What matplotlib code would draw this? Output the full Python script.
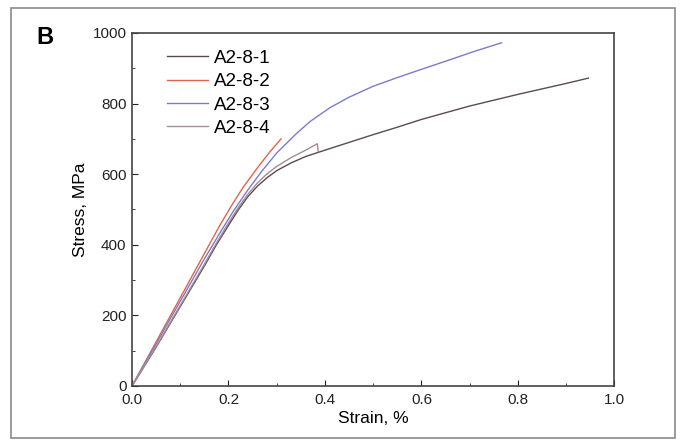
import matplotlib
matplotlib.use('Agg')
from matplotlib import pyplot as plt
from matplotlib.patches import Rectangle
from matplotlib.ticker import MultipleLocator

plt.rcParams['font.family'] = ['Liberation Sans', 'DejaVu Sans']

# stress-strain curves
strain_1 = [0, 0.05, 0.1, 0.15, 0.175, 0.2, 0.22, 0.24, 0.26, 0.28, 0.30, 0.33, 0.36,
            0.4, 0.45, 0.5, 0.55, 0.6, 0.7, 0.8, 0.9, 0.946]
stress_1 = [0, 110, 225, 340, 400, 455, 498, 536, 566, 590, 610, 632, 650,
            668, 690, 712, 733, 755, 793, 826, 857, 872]

strain_2 = [0, 0.05, 0.1, 0.15, 0.18, 0.205, 0.23, 0.26, 0.285, 0.309]
stress_2 = [0, 125, 250, 375, 450, 508, 562, 618, 662, 700]

strain_3 = [0, 0.05, 0.1, 0.15, 0.185, 0.21, 0.24, 0.27, 0.30, 0.34, 0.37, 0.41,
            0.45, 0.5, 0.555, 0.6, 0.659, 0.71, 0.766]
stress_3 = [0, 120, 240, 360, 440, 495, 555, 610, 660, 714, 750, 788,
            818, 849, 876, 897, 924, 948, 972]

strain_4 = [0, 0.05, 0.1, 0.15, 0.175, 0.2, 0.22, 0.24, 0.26, 0.28, 0.30, 0.33, 0.36, 0.384, 0.386]
stress_4 = [0, 112, 228, 345, 405, 462, 505, 543, 575, 601, 622, 647, 668, 686, 664]

labels = ['A2-8-1', 'A2-8-2', 'A2-8-3', 'A2-8-4']
colors = ['#5b4b4d', '#e4634a', '#7b7bcc', '#a58c95']

fig = plt.figure(figsize=(6.85, 4.45), dpi=100)
ax = fig.add_axes([0.1927, 0.1326, 0.7043, 0.7934])

curves = [(strain_1, stress_1), (strain_2, stress_2), (strain_3, stress_3), (strain_4, stress_4)]
for (x, y), lab, c in zip(curves, labels, colors):
    ax.plot(x, y, color=c, lw=1.0, label=lab)

ax.set_xlim(0, 1.0)
ax.set_ylim(0, 1000)
ax.xaxis.set_major_locator(MultipleLocator(0.2))
ax.xaxis.set_minor_locator(MultipleLocator(0.1))
ax.yaxis.set_major_locator(MultipleLocator(200))
ax.yaxis.set_minor_locator(MultipleLocator(100))
ax.tick_params(which='both', direction='in', top=False, right=False, labelsize=11, colors='#222222')
ax.tick_params(which='major', length=4)
ax.tick_params(which='minor', length=2.5)
ax.tick_params(axis='x', pad=5)
ax.tick_params(axis='y', pad=4)
ax.xaxis.set_major_formatter(lambda v, p: '%.1f' % v)
for s in ax.spines.values():
    s.set_color('#444444')
    s.set_linewidth(1.2)

ax.set_xlabel('Strain, %', fontsize=12.5, labelpad=3)
ax.set_ylabel('Stress, MPa', fontsize=12.5, labelpad=3)

ax.legend(loc='upper left', frameon=False, fontsize=13.5, handlelength=2.2,
          handletextpad=0.3, labelspacing=0.33, borderpad=0, borderaxespad=0,
          bbox_to_anchor=(0.0725, 0.952))

fig.text(45 / 685, 1 - 37 / 445, 'B', fontsize=17, fontweight='bold', ha='center', va='center')
fig.patches.append(Rectangle((11 / 685, 7 / 445), 664 / 685, 430 / 445, transform=fig.transFigure,
                             fill=False, edgecolor='#8a8a8a', lw=1.2))

fig.savefig('out.png', dpi=100)
